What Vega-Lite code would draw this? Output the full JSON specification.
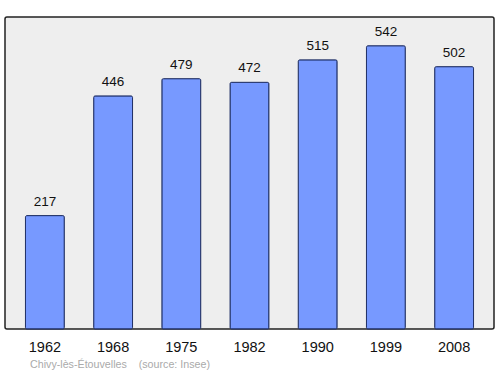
{
  "$schema": "https://vega.github.io/schema/vega-lite/v6.json",
  "width": 489,
  "height": 312,
  "autosize": {"type": "none"},
  "padding": {"left": 5, "top": 17, "right": 6, "bottom": 45},
  "background": "white",
  "config": {
    "view": {"fill": "#eeeeee", "stroke": "#222222", "strokeWidth": 1.5, "cornerRadius": 2},
    "font": "Liberation Sans"
  },
  "title": {
    "text": "Chivy-lès-Étouvelles\u00a0\u00a0\u00a0\u00a0(source: Insee)",
    "orient": "bottom",
    "anchor": "start",
    "dx": 25,
    "offset": 6,
    "fontSize": 10.7,
    "fontWeight": "normal",
    "color": "#aaaaaa",
    "font": "Liberation Sans"
  },
  "data": {
    "values": [
      {"year": "1962", "pop": 217},
      {"year": "1968", "pop": 446},
      {"year": "1975", "pop": 479},
      {"year": "1982", "pop": 472},
      {"year": "1990", "pop": 515},
      {"year": "1999", "pop": 542},
      {"year": "2008", "pop": 502}
    ]
  },
  "encoding": {
    "x": {
      "field": "year",
      "type": "ordinal",
      "sort": null,
      "scale": {"paddingInner": 0.43, "paddingOuter": 0.3},
      "axis": {
        "title": null,
        "labelAngle": 0,
        "ticks": false,
        "domain": false,
        "labelPadding": 11,
        "labelFontSize": 14.5,
        "labelColor": "#111111",
        "labelFont": "Liberation Sans"
      }
    },
    "y": {
      "field": "pop",
      "type": "quantitative",
      "scale": {"domain": [0, 597], "nice": false},
      "axis": null
    }
  },
  "layer": [
    {
      "mark": {"type": "bar", "fill": "#7799ff", "stroke": "#1f2f66", "strokeWidth": 1, "cornerRadius": 1.5}
    },
    {
      "mark": {"type": "text", "dy": -14, "fontSize": 13.5, "color": "#111111", "font": "Liberation Sans"},
      "encoding": {"text": {"field": "pop", "type": "quantitative"}}
    }
  ]
}
